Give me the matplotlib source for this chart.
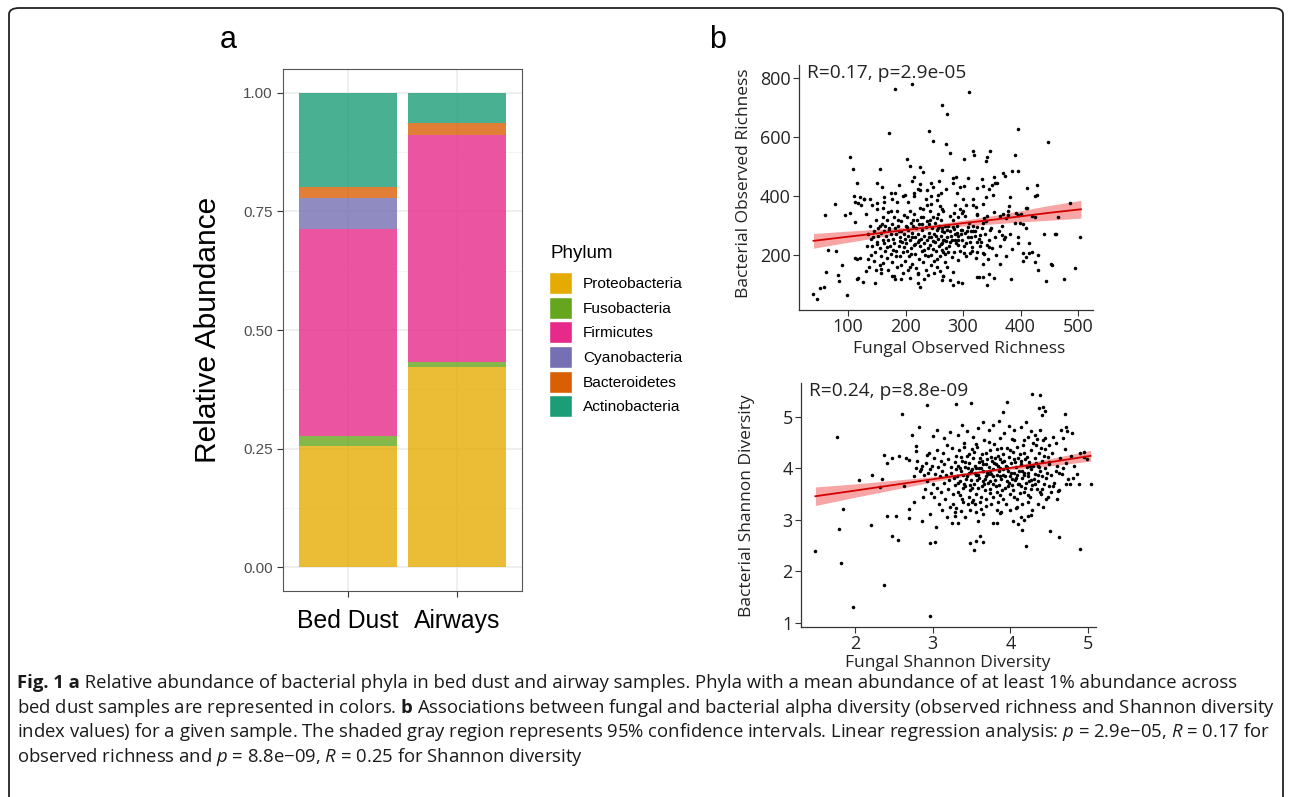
import matplotlib
matplotlib.use("Agg")
import matplotlib.pyplot as plt
from matplotlib.patches import Patch, FancyBboxPatch
from matplotlib.text import Annotation

# ---- panel a: mean relative abundance per phylum (stacked from the bottom)
phyla = ["Proteobacteria", "Fusobacteria", "Firmicutes",
         "Cyanobacteria", "Bacteroidetes", "Actinobacteria"]
sample_types = ["Bed Dust", "Airways"]
bed_dust = [0.256, 0.020, 0.436, 0.067, 0.023, 0.198]
airways = [0.422, 0.010, 0.478, 0.000, 0.027, 0.063]
abund_ticks = [0.00, 0.25, 0.50, 0.75, 1.00]

# ---- panel b (top): observed richness, (fungal, bacterial)
richness_pts = [
    (40, 68), (46, 50), (51, 88), (58, 90), (60, 336), (62, 142), (65, 217),
    (77, 372), (80, 214), (83, 132), (84, 112), (90, 165), (94, 336), (98, 66),
    (104, 531), (103, 342), (108, 490), (110, 400), (112, 380), (113, 312),
    (113, 190), (116, 443), (116, 118), (120, 190), (122, 370), (126, 108),
    (128, 390), (131, 145), (134, 186), (118, 377), (127, 389), (121, 395),
    (141, 369), (150, 375), (163, 381), (176, 389), (182, 411), (199, 403),
    (214, 411), (222, 423), (237, 420), (248, 432), (256, 403), (156, 490),
    (150, 445), (202, 524), (208, 502), (225, 499), (214, 465), (231, 482),
    (245, 443), (263, 488), (188, 437), (159, 432), (138, 389), (132, 339),
    (115, 188), (117, 121), (147, 104), (157, 151), (161, 172), (176, 129),
    (181, 117), (193, 166), (204, 149), (208, 123), (221, 140), (222, 106),
    (225, 93), (239, 132), (245, 166), (254, 185), (263, 115), (172, 615),
    (181, 762), (211, 780), (240, 621), (248, 588), (263, 708),
    (311, 754), (273, 678), (395, 628), (447, 583), (270, 576), (277, 545),
    (318, 554), (319, 539), (347, 554), (341, 533), (340, 519), (301, 524),
    (390, 539), (386, 486), (395, 486), (369, 477), (373, 468), (353, 465),
    (356, 443), (359, 443), (333, 456), (309, 460), (288, 465), (282, 460),
    (283, 443), (270, 423), (294, 432), (302, 434), (325, 426), (335, 434),
    (346, 423), (350, 437), (412, 426), (429, 437), (428, 403), (381, 398),
    (340, 395), (334, 373), (323, 364), (318, 369), (295, 355), (298, 343),
    (263, 355), (277, 332), (284, 343), (292, 330), (303, 332), (324, 335),
    (337, 324), (341, 332), (364, 332), (370, 339), (374, 324), (379, 335),
    (392, 343), (412, 360), (420, 332), (486, 375), (399, 307), (462, 271),
    (504, 260), (263, 290), (272, 285), (283, 296), (289, 273), (298, 285),
    (309, 294), (318, 282), (325, 296), (334, 307), (347, 285), (367, 268),
    (373, 262), (266, 251), (277, 245), (286, 251), (292, 234), (306, 240),
    (315, 228), (324, 245), (332, 245), (341, 234), (346, 226), (263, 217),
    (274, 211), (280, 194), (292, 183), (312, 208), (324, 211), (335, 206),
    (396, 240), (405, 208), (414, 208), (410, 194), (425, 177), (453, 169),
    (364, 169), (335, 169), (283, 143), (272, 160), (260, 147), (265, 129),
    (277, 115), (283, 98), (292, 110), (298, 104), (324, 124), (328, 124),
    (334, 124), (346, 136), (341, 98), (353, 121), (383, 117), (444, 112),
    (495, 155),
    (135, 270), (138, 300), (140, 255), (142, 232), (145, 282), (147, 210),
    (148, 318), (150, 245), (152, 290), (153, 265), (155, 300), (156, 225),
    (158, 275), (158, 195), (160, 330), (160, 250), (150, 355), (145, 180),
    (155, 165), (140, 200), (133, 230), (136, 160), (148, 150), (157, 140),
    (160, 360), (162, 280), (163, 240), (165, 300), (165, 215), (166, 265),
    (168, 320), (168, 190), (170, 250), (170, 345), (172, 285), (173, 230),
    (174, 205), (175, 270), (176, 305), (177, 175), (178, 255), (180, 330),
    (180, 240), (182, 290), (183, 215), (184, 270), (185, 160), (186, 350),
    (187, 300), (188, 230), (190, 260), (190, 195), (192, 315), (193, 280),
    (194, 245), (195, 140), (196, 210), (197, 335), (198, 270), (199, 180),
    (200, 300), (162, 395), (175, 410), (185, 380), (195, 400), (170, 150),
    (180, 130), (192, 120), (201, 240), (202, 330), (203, 215), (204, 265),
    (205, 285), (206, 195), (207, 350), (208, 250), (209, 310), (210, 225),
    (211, 170), (212, 275), (213, 300), (214, 235), (215, 340), (216, 205),
    (217, 260), (218, 290), (219, 155), (220, 320), (221, 245), (222, 270),
    (223, 185), (224, 305), (225, 230), (226, 360), (227, 255), (228, 215),
    (229, 285), (230, 175), (231, 330), (232, 240), (233, 265), (234, 200),
    (235, 295), (236, 150), (237, 315), (238, 250), (239, 225), (240, 275),
    (205, 380), (215, 400), (225, 420), (235, 390), (208, 160), (222, 135),
    (232, 120), (226, 440), (238, 370), (212, 450), (241, 305), (242, 235),
    (243, 350), (244, 260), (245, 200), (246, 290), (247, 220), (248, 330),
    (249, 270), (250, 180), (251, 245), (252, 310), (253, 215), (254, 285),
    (255, 160), (256, 255), (257, 340), (258, 230), (259, 300), (260, 195),
    (261, 265), (262, 320), (263, 240), (264, 280), (265, 210), (266, 350),
    (267, 250), (268, 175), (269, 300), (270, 225), (245, 400), (255, 385),
    (262, 410), (250, 140), (266, 130), (258, 450), (272, 260), (274, 300),
    (276, 230), (278, 280), (280, 250), (282, 320), (284, 210), (286, 270),
    (288, 240), (290, 300), (292, 265), (294, 215), (296, 285), (298, 250),
    (300, 350), (302, 230), (304, 275), (306, 195), (308, 260), (310, 310),
    (300, 390), (290, 410), (305, 370), (312, 245), (314, 280), (316, 215),
    (318, 300), (320, 265), (322, 190), (325, 340), (327, 255), (330, 230),
    (333, 290), (336, 205), (338, 270), (340, 315), (343, 185), (346, 250),
    (348, 290), (350, 225), (353, 345), (356, 260), (358, 200), (362, 280),
    (365, 230), (368, 300), (372, 255), (375, 195), (378, 350), (382, 270),
    (386, 220), (390, 310), (395, 260), (400, 340), (405, 180), (410, 290),
    (415, 240), (420, 210), (425, 330), (430, 200), (440, 270), (460, 270),
    (465, 330), (380, 365), (395, 335), (405, 305), (410, 360), (425, 400),
    (455, 165), (475, 120), (430, 150),
    (143, 262), (151, 236), (159, 306), (167, 228), (171, 292), (179, 218),
    (189, 282), (191, 246), (197, 226), (203, 296), (211, 262), (217, 236),
    (223, 252), (229, 306), (233, 216), (241, 262), (247, 248), (253, 266),
    (257, 292), (261, 236), (267, 278), (271, 246), (279, 266), (285, 288),
    (291, 250), (297, 272), (307, 282), (313, 262), (321, 282), (329, 268),
    (213, 318), (227, 328), (243, 318), (255, 326), (187, 318), (199, 254),
    (183, 196), (209, 202), (239, 196), (269, 202), (301, 206), (174, 348),
    (244, 372), (286, 368), (317, 390), (352, 405), (230, 355), (260, 365),
]

# ---- panel b (bottom): Shannon diversity, (fungal, bacterial)
shannon_pts = [
    (1.48, 2.39), (1.77, 4.61), (1.79, 2.82), (1.82, 2.17), (1.85, 3.21),
    (1.97, 1.30), (2.05, 3.77), (2.21, 2.90), (2.22, 3.88), (2.32, 3.64),
    (2.35, 3.79), (2.37, 1.74), (2.37, 4.27), (2.41, 3.07), (2.41, 4.11),
    (2.47, 2.68), (2.48, 4.21), (2.53, 3.08), (2.55, 2.61), (2.57, 4.24),
    (2.60, 5.06), (2.63, 3.66), (2.66, 4.21), (2.69, 4.17), (2.69, 3.21),
    (2.69, 3.03), (2.73, 4.65), (2.76, 3.85), (2.76, 3.34), (2.78, 4.43),
    (2.78, 4.34), (2.79, 4.01), (2.80, 4.15), (2.82, 4.81), (2.85, 3.99),
    (2.86, 2.98), (2.88, 3.45), (2.89, 3.88), (2.92, 5.24), (2.92, 4.26),
    (2.96, 3.11), (2.97, 2.55), (2.97, 1.14), (2.98, 3.53), (3.00, 4.63),
    (3.03, 2.58), (3.04, 2.86), (3.05, 4.75),
    (2.83, 3.95), (2.86, 4.05), (2.90, 3.60), (2.91, 4.10), (2.93, 3.75),
    (2.94, 3.92), (2.95, 4.30), (2.97, 3.98), (2.99, 4.05), (3.00, 3.70),
    (3.01, 4.20), (3.02, 3.45), (3.03, 3.90), (3.05, 4.35), (3.06, 3.62),
    (3.07, 4.02), (3.08, 3.30), (3.09, 3.85), (3.10, 4.15), (3.10, 3.55),
    (4.28, 5.45), (4.38, 5.42), (3.30, 5.25), (3.49, 5.27), (3.95, 5.29),
    (3.91, 5.10), (4.37, 5.17), (4.42, 5.19), (4.44, 5.11), (4.41, 5.03),
    (4.70, 5.05), (4.72, 4.80), (4.73, 4.72), (4.79, 4.69), (4.94, 4.32),
    (5.04, 3.69), (4.88, 3.70), (4.76, 3.70), (4.71, 3.70), (4.81, 3.82),
    (4.63, 3.92), (4.61, 3.56), (4.55, 3.66), (4.51, 2.79), (4.63, 2.66),
    (4.89, 2.43), (4.20, 2.50), (4.15, 2.80), (3.48, 2.56), (3.53, 2.41),
    (3.55, 2.59), (3.65, 2.57), (3.61, 2.69), (3.33, 2.95), (3.58, 2.97),
    (3.64, 3.11), (3.77, 2.95), (3.82, 2.95), (3.87, 3.14), (4.03, 2.98),
    (4.10, 2.93), (4.13, 3.05), (4.18, 3.00), (4.23, 3.08), (4.27, 3.10),
    (4.07, 3.23), (3.28, 3.08), (3.30, 3.24), (3.26, 3.30), (3.39, 3.34),
    (3.51, 3.34), (3.54, 3.30),
    (3.12, 3.95), (3.13, 4.30), (3.14, 3.72), (3.15, 4.08), (3.16, 3.40),
    (3.17, 3.88), (3.18, 4.45), (3.19, 3.60), (3.20, 4.18), (3.21, 3.78),
    (3.22, 3.25), (3.23, 4.02), (3.24, 3.92), (3.25, 4.40), (3.26, 3.50),
    (3.27, 3.82), (3.28, 4.12), (3.29, 3.68), (3.30, 4.25), (3.30, 3.98),
    (3.15, 4.60), (3.22, 4.70), (3.28, 3.15), (3.18, 3.05), (3.25, 2.95),
    (3.12, 3.20),
    (3.31, 3.85), (3.32, 4.05), (3.33, 3.55), (3.34, 4.35), (3.35, 3.75),
    (3.36, 3.95), (3.37, 4.15), (3.38, 3.40), (3.39, 3.88), (3.40, 4.50),
    (3.41, 3.65), (3.42, 4.02), (3.43, 3.80), (3.44, 4.25), (3.45, 3.30),
    (3.46, 3.92), (3.47, 4.10), (3.48, 3.58), (3.49, 3.78), (3.50, 4.38),
    (3.32, 4.65), (3.38, 4.85), (3.44, 4.72), (3.36, 3.18), (3.42, 3.05),
    (3.48, 3.20), (3.35, 4.00), (3.45, 4.00), (3.40, 3.70), (3.47, 3.45),
    (3.51, 3.98), (3.52, 4.20), (3.53, 3.70), (3.54, 4.05), (3.55, 3.50),
    (3.56, 3.88), (3.57, 4.42), (3.58, 3.62), (3.59, 4.12), (3.60, 3.82),
    (3.61, 3.35), (3.62, 4.00), (3.63, 4.28), (3.64, 3.75), (3.65, 3.95),
    (3.66, 4.55), (3.67, 3.58), (3.68, 4.08), (3.69, 3.85), (3.70, 4.18),
    (3.52, 4.62), (3.58, 4.78), (3.64, 4.90), (3.55, 3.15), (3.62, 3.22),
    (3.68, 3.28), (3.54, 3.92), (3.60, 4.00), (3.66, 3.70), (3.70, 3.92),
    (3.57, 3.78), (3.63, 4.15),
    (3.71, 3.72), (3.72, 4.02), (3.73, 4.35), (3.74, 3.60), (3.75, 3.90),
    (3.76, 4.15), (3.77, 3.45), (3.78, 3.98), (3.79, 4.48), (3.80, 3.78),
    (3.81, 4.08), (3.82, 3.55), (3.83, 3.88), (3.84, 4.25), (3.85, 3.68),
    (3.86, 4.00), (3.87, 4.60), (3.88, 3.80), (3.89, 4.12), (3.90, 3.40),
    (3.72, 4.75), (3.78, 4.85), (3.85, 4.92), (3.75, 3.30), (3.82, 3.20),
    (3.88, 3.15), (3.74, 3.95), (3.80, 4.20), (3.86, 3.85), (3.90, 3.98),
    (3.77, 3.70), (3.84, 4.05),
    (3.91, 3.88), (3.92, 4.15), (3.93, 3.62), (3.94, 4.05), (3.95, 4.40),
    (3.96, 3.75), (3.97, 3.95), (3.98, 4.22), (3.99, 3.50), (4.00, 3.85),
    (4.01, 4.10), (4.02, 3.68), (4.03, 4.32), (4.04, 3.92), (4.05, 4.55),
    (4.06, 3.78), (4.07, 4.02), (4.08, 3.40), (4.09, 3.88), (4.10, 4.20),
    (3.92, 4.68), (3.98, 4.82), (4.05, 4.75), (3.94, 3.30), (4.00, 3.20),
    (4.08, 3.25), (3.96, 4.00), (4.02, 3.80), (4.06, 4.12), (4.10, 3.70),
    (4.11, 3.95), (4.12, 4.28), (4.13, 3.65), (4.14, 4.08), (4.15, 3.82),
    (4.16, 4.45), (4.17, 3.55), (4.18, 3.92), (4.19, 4.18), (4.20, 3.72),
    (4.21, 4.02), (4.22, 4.62), (4.23, 3.85), (4.24, 4.12), (4.25, 3.45),
    (4.26, 3.98), (4.27, 4.35), (4.28, 3.68), (4.29, 4.05), (4.30, 3.80),
    (4.14, 4.80), (4.20, 4.90), (4.26, 4.72), (4.15, 3.30), (4.22, 3.35),
    (4.28, 3.20), (4.18, 3.88), (4.24, 3.75),
    (4.31, 4.20), (4.32, 3.90), (4.33, 4.45), (4.34, 3.60), (4.35, 4.05),
    (4.36, 3.75), (4.37, 4.30), (4.38, 3.95), (4.39, 3.50), (4.40, 4.15),
    (4.41, 3.85), (4.42, 4.55), (4.43, 3.70), (4.44, 4.00), (4.45, 4.38),
    (4.46, 3.40), (4.47, 3.92), (4.48, 4.22), (4.49, 3.65), (4.50, 4.08),
    (4.32, 4.65), (4.38, 4.75), (4.45, 4.60), (4.35, 3.30), (4.42, 3.25),
    (4.48, 3.45),
    (4.52, 3.88), (4.54, 4.30), (4.56, 3.72), (4.58, 4.50), (4.60, 4.05),
    (4.62, 3.58), (4.64, 4.20), (4.66, 3.90), (4.68, 4.60), (4.70, 4.38),
    (4.72, 4.10), (4.74, 3.80), (4.55, 4.62), (4.65, 4.75), (4.60, 3.40),
    (4.68, 4.00), (4.52, 3.55), (4.58, 3.95), (4.78, 4.25), (4.82, 4.05),
    (4.85, 3.90), (4.90, 4.30), (4.95, 4.22), (4.98, 4.18),
    (3.33, 3.72), (3.36, 4.22), (3.39, 3.62), (3.41, 4.12), (3.44, 3.85),
    (3.46, 4.28), (3.49, 3.95), (3.51, 3.62), (3.53, 4.32), (3.56, 4.00),
    (3.58, 3.88), (3.61, 4.20), (3.63, 3.66), (3.65, 4.08), (3.67, 3.80),
    (3.69, 4.30), (3.71, 3.90), (3.73, 3.52), (3.75, 4.22), (3.77, 3.85),
    (3.79, 4.10), (3.81, 3.65), (3.83, 4.38), (3.85, 3.95), (3.87, 4.18),
    (3.89, 3.58), (3.91, 4.28), (3.93, 3.85), (3.95, 4.02), (3.97, 3.65),
    (3.99, 4.35), (4.01, 3.92), (4.03, 3.58), (4.05, 4.18), (4.07, 3.82),
    (4.09, 4.42), (4.11, 3.70), (4.13, 4.15), (4.15, 3.95), (4.17, 4.30),
    (4.19, 3.62), (4.21, 4.22), (4.23, 3.92), (4.25, 4.05), (4.27, 3.78),
    (4.29, 4.50), (4.31, 3.70), (4.33, 4.10), (4.35, 3.88), (4.37, 4.02),
    (4.39, 4.40), (4.41, 3.60), (4.43, 4.25), (4.46, 3.82), (4.49, 4.12),
    (3.35, 3.48), (3.48, 3.68), (3.62, 3.45), (3.74, 3.75), (3.86, 3.48),
    (3.98, 3.72), (4.12, 3.52), (4.26, 3.60), (4.38, 3.55), (3.52, 3.38),
    (3.68, 3.40), (3.84, 3.35), (4.04, 3.45), (4.22, 3.48), (3.40, 4.42),
    (3.55, 4.48), (3.72, 4.52), (3.88, 4.40), (4.02, 4.58), (4.18, 4.55),
    (4.34, 4.58), (4.50, 4.45),
]

# regression fits: x, fitted y, half-width of 95% CI
rich_fit_x = [40, 100, 150, 200, 250, 300, 350, 400, 450, 505]
rich_fit_y = [248, 262, 273, 285, 296, 308, 319, 331, 343, 355]
rich_ci = [25, 19, 14, 10, 8, 10, 14, 19, 25, 30]
shan_fit_x = [1.49, 2.0, 2.5, 3.0, 3.5, 3.8, 4.0, 4.5, 5.03]
shan_fit_y = [3.46, 3.57, 3.68, 3.79, 3.90, 3.97, 4.01, 4.12, 4.245]
shan_ci = [0.18, 0.13, 0.09, 0.05, 0.03, 0.03, 0.035, 0.07, 0.105]

COLORS = ["#E6AB02", "#66A61E", "#E7298A", "#7570B3", "#D95F02", "#1B9E77"]
W, H = 1290, 797


def fx(px):
    return px / W


def fy(py):
    return 1 - py / H


fig = plt.figure(figsize=(W / 100, H / 100), dpi=100)
fig.patches.append(FancyBboxPatch(
    (fx(9), fy(806)), fx(1283 - 9), (806 - 8) / H,
    boxstyle="round,pad=0,rounding_size=0.008", transform=fig.transFigure,
    facecolor="none", edgecolor="#222222", linewidth=1.3))

# ---------------- panel a ----------------
ax = fig.add_axes([fx(283), fy(591), fx(522 - 283), (591 - 69) / H])
xpos = [1, 2]
for grp_i, vals in enumerate([bed_dust, airways]):
    bottom = 0.0
    for k, v in enumerate(vals):
        ax.bar(xpos[grp_i], v, bottom=bottom, width=0.9, color=COLORS[k],
               alpha=0.8, linewidth=0, zorder=2)
        bottom += v
ax.set_xlim(0.4, 2.6)
ax.set_ylim(-0.05, 1.05)
ax.set_yticks(abund_ticks)
ax.set_yticklabels([f"{t:.2f}" for t in abund_ticks], color="#4D4D4D",
                   fontsize=11, family="Liberation Sans")
ax.set_yticks([0.125, 0.375, 0.625, 0.875], minor=True)
ax.set_xticks(xpos)
ax.set_xticklabels(sample_types, fontsize=17.8, family="Liberation Sans")
ax.tick_params(axis="both", which="major", length=4, color="#333333",
               width=0.8)
ax.tick_params(axis="y", which="minor", length=0)
ax.tick_params(axis="x", pad=9)
ax.grid(which="major", color="#EBEBEB", linewidth=1.1, zorder=0)
ax.grid(which="minor", axis="y", color="#F2F2F2", linewidth=0.6, zorder=0)
ax.set_axisbelow(True)
for sp in ax.spines.values():
    sp.set_color("#555555")
    sp.set_linewidth(0.8)
fig.text(fx(208), fy(330), "Relative Abundance", rotation=90, fontsize=21.5,
         family="Liberation Sans", ha="center", va="center")
fig.text(fx(228), fy(40), "a", fontsize=22, family="Liberation Sans",
         ha="center", va="center")
fig.text(fx(718), fy(40), "b", fontsize=22, family="Liberation Sans",
         ha="center", va="center")

# legend: title placed by hand, entries through fig.legend
fig.text(fx(551), fy(253), "Phylum", fontsize=13.5, family="Liberation Sans",
         ha="left", va="center")
handles = [Patch(facecolor=c, edgecolor="white", label=n)
           for c, n in zip(COLORS, phyla)]
fig.legend(handles=handles, loc="upper left",
           bbox_to_anchor=(fx(549), fy(272)), frameon=False,
           prop={"family": "Liberation Sans", "size": 11.1},
           handlelength=1.5, handleheight=1.82, labelspacing=0.17,
           handletextpad=0.7, borderaxespad=0, borderpad=0)

# ---------------- panel b ----------------
OPEN = ["Open Sans", "DejaVu Sans"]


def scatter_panel(rect, pts, fit_x, fit_y, ci, xlim, ylim, xticks, yticks,
                  note):
    a = fig.add_axes(rect)
    a.scatter([p[0] for p in pts], [p[1] for p in pts], s=6.5, color="black",
              linewidths=0, zorder=3)
    lo = [y - h for y, h in zip(fit_y, ci)]
    hi = [y + h for y, h in zip(fit_y, ci)]
    a.fill_between(fit_x, lo, hi, color="#F25C5C", alpha=0.55, linewidth=0,
                   zorder=2)
    a.plot(fit_x, fit_y, color="#D40000", linewidth=1.3, zorder=4)
    a.set_xlim(*xlim)
    a.set_ylim(*ylim)
    a.set_xticks(xticks)
    a.set_yticks(yticks)
    a.tick_params(labelsize=13, length=4, width=0.8, color="#333333",
                  pad=2)
    for lab in a.get_xticklabels() + a.get_yticklabels():
        lab.set_family(OPEN)
        lab.set_color("#222222")
    for s in ("top", "right"):
        a.spines[s].set_visible(False)
    for s in ("left", "bottom"):
        a.spines[s].set_color("#333333")
        a.spines[s].set_linewidth(0.9)
    a.text(0.027, 0.967, note, transform=a.transAxes, fontsize=13.8,
           family=OPEN, ha="left", va="center", color="#222222")
    return a


scatter_panel([fx(799), fy(310), fx(1093 - 799), (310 - 65) / H],
              richness_pts, rich_fit_x, rich_fit_y, rich_ci,
              (14.8, 526), (13.6, 844), [100, 200, 300, 400, 500],
              [200, 400, 600, 800], "R=0.17, p=2.9e-05")
scatter_panel([fx(801), fy(627), fx(1096 - 801), (627 - 383) / H],
              shannon_pts, shan_fit_x, shan_fit_y, shan_ci,
              (1.305, 5.10), (0.92, 5.66), [2, 3, 4, 5],
              [1, 2, 3, 4, 5], "R=0.24, p=8.8e-09")

fig.text(fx(744), fy(183), "Bacterial Observed Richness", rotation=90,
         fontsize=12.5, family=OPEN, ha="center", va="center", color="#222222")
fig.text(fx(959), fy(349), "Fungal Observed Richness", fontsize=12.5,
         family=OPEN, ha="center", va="center", color="#222222")
fig.text(fx(747), fy(506), "Bacterial Shannon Diversity", rotation=90,
         fontsize=12.5, family=OPEN, ha="center", va="center", color="#222222")
fig.text(fx(948), fy(663), "Fungal Shannon Diversity", fontsize=12.5,
         family=OPEN, ha="center", va="center", color="#222222")

# ---------------- caption ----------------
plt.rcParams["mathtext.fontset"] = "custom"
plt.rcParams["mathtext.rm"] = "Open Sans"
plt.rcParams["mathtext.it"] = "Open Sans:italic"
plt.rcParams["mathtext.bf"] = "Open Sans:bold"
CAP_SIZE = 13.3
caption_lead = "Fig. 1 a"
caption = [
    " Relative abundance of bacterial phyla in bed dust and airway samples. "
    "Phyla with a mean abundance of at least 1% abundance across",
    r"bed dust samples are represented in colors. $\mathbf{b}$ Associations "
    r"between fungal and bacterial alpha diversity (observed richness and "
    r"Shannon diversity",
    r"index values) for a given sample. The shaded gray region represents "
    r"95% confidence intervals. Linear regression analysis: $p$ = 2.9e−05, "
    r"$R$ = 0.17 for",
    r"observed richness and $p$ = 8.8e−09, $R$ = 0.25 for Shannon diversity",
]
lead = fig.text(fx(17), fy(683), caption_lead, fontsize=CAP_SIZE,
                family=OPEN, weight="bold", ha="left", va="baseline",
                color="#1a1a1a")
lead.set_y(fy(688))
fig.add_artist(Annotation(caption[0], xy=(1, 0), xycoords=lead,
                          xytext=(0, 0), textcoords="offset points",
                          fontsize=CAP_SIZE, family=OPEN, ha="left",
                          va="bottom", color="#1a1a1a"))
for i, line in enumerate(caption[1:], start=1):
    fig.text(fx(17), fy(683 + 24.7 * i), line, fontsize=CAP_SIZE,
             family=OPEN, ha="left", va="center", color="#1a1a1a")

fig.savefig("out.png", dpi=100)
